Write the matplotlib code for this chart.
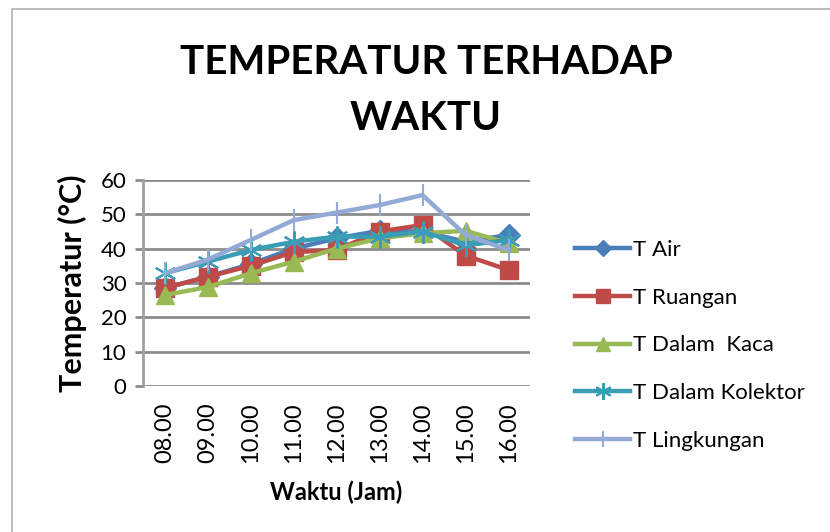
import matplotlib
matplotlib.use("Agg")
import matplotlib.pyplot as plt
from matplotlib.patches import Rectangle

waktu = ["08.00", "09.00", "10.00", "11.00", "12.00", "13.00", "14.00", "15.00", "16.00"]
t_air = [28.5, 31.8, 35.5, 40.0, 43.0, 45.2, 45.0, 42.0, 44.0]
t_ruangan = [28.5, 31.8, 35.0, 39.0, 39.6, 45.0, 46.9, 38.0, 33.8]
t_kaca = [26.5, 28.8, 32.8, 36.2, 40.0, 43.0, 44.5, 45.2, 41.6]
t_kolektor = [32.8, 36.2, 39.6, 42.0, 43.5, 43.5, 45.0, 41.0, 42.5]
t_lingkungan = [32.8, 36.8, 42.5, 48.3, 50.5, 52.7, 55.6, 44.0, 39.6]
yticks = [0, 10, 20, 30, 40, 50, 60]

series = [
    ("T Air", t_air, "#4A7EBB", "D", 11, 1),
    ("T Ruangan", t_ruangan, "#BE4B48", "s", 13, 1),
    ("T Dalam  Kaca", t_kaca, "#98B954", "^", 13, 1),
    ("T Dalam Kolektor", t_kolektor, "#3A9DB5", (6, 2, 0), 16, 1.5),
    ("T Lingkungan", t_lingkungan, "#93AAD6", "|", 16, 1.5),
]

plt.rcParams['font.family'] = ['Lato', 'DejaVu Sans']

fig = plt.figure(figsize=(8.30, 5.32), dpi=100)
fig.patch.set_facecolor("white")
fig.patches.append(Rectangle((12/830, -0.1), 1.0, (532-9)/532 + 0.1, transform=fig.transFigure,
                             fill=False, edgecolor="#B0B0B0", linewidth=1.2))

ax = fig.add_axes([143/830, (532-386)/532, 387/830, 206/532])
x = list(range(len(waktu)))
for name, vals, color, marker, ms, mew in series:
    ax.plot(x, vals, color=color, linewidth=3.2, marker=marker, markersize=ms,
            markeredgecolor=color, markerfacecolor=color, markeredgewidth=mew, label=name)

ax.set_ylim(0, 60)
ax.set_xlim(-0.5, len(waktu) - 0.5)
ax.set_yticks(yticks)
ax.set_xticks(x)
ax.set_xticklabels(waktu, rotation=90)
ax.grid(axis="y", color="#8C8C8C", linewidth=2)
ax.set_axisbelow(True)
for s in ["top", "right", "bottom"]:
    ax.spines[s].set_visible(False)
ax.spines["left"].set_color("#A0A0A0")
ax.spines["left"].set_linewidth(2)
ax.tick_params(axis="y", length=6, width=2, color="#8C8C8C", labelsize=16, pad=6)
ax.tick_params(axis="x", length=0, labelsize=17, pad=12)

ax.set_xlabel("Waktu (Jam)", fontsize=17, fontweight="bold", labelpad=12)
ax.set_ylabel("Temperatur (°C)", fontsize=22, fontweight="bold", labelpad=10)

fig.text(426/830, 1 - 63/532, "TEMPERATUR TERHADAP", ha="center", va="center",
         fontsize=29, fontweight="bold")
fig.text(426/830, 1 - 118/532, "WAKTU", ha="center", va="center",
         fontsize=29, fontweight="bold")

leg = fig.legend(loc="upper left", bbox_to_anchor=(566/830, 1 - 231/532), frameon=False,
                 fontsize=16, handlelength=2.5, handletextpad=0.1, labelspacing=1.25,
                 borderaxespad=0, markerscale=0.75)

fig.savefig("out.png", dpi=100)
